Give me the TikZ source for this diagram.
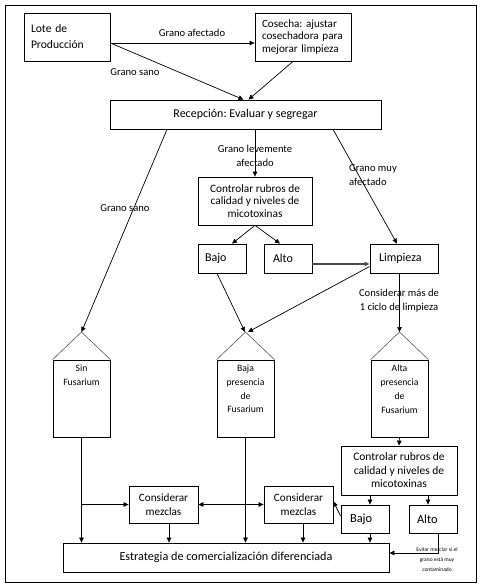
\documentclass[tikz,border=0pt]{standalone}
\usepackage{fontspec}
\setmainfont{Carlito}
\usetikzlibrary{arrows.meta,calc}
\AtBeginDocument{\frenchspacing}
\begin{document}
\begin{tikzpicture}[x=1pt,y=-1pt,
  box/.style={draw, line width=0.8pt, inner sep=0pt, align=center, font=\fontsize{11.3}{12.5}\selectfont},
  silo/.style={draw, line width=0.8pt, inner sep=0pt, minimum width=57pt, minimum height=77pt},
  roof/.style={draw, line width=0.6pt, gray!70!black},
  silotext/.style={inner sep=0pt, align=center, anchor=north, font=\fontsize{9.7}{13.7}\selectfont},
  arr/.style={-{Triangle[length=5pt,width=4.5pt]}, line width=0.7pt},
  lbl/.style={inner sep=0pt, align=center, font=\fontsize{10.6}{14}\selectfont},
  tiny/.style={inner sep=0pt, align=center, font=\fontsize{5.5}{10}\selectfont}]
\useasboundingbox (0,0) rectangle (481,586);
\draw[line width=0.8pt] (5,5) rectangle (476,582);

% top row
\node[box, minimum width=86pt, minimum height=48pt, text width=72pt, align=left, font=\fontsize{11.6}{16}\selectfont] (lote) at (67,37) {Lote de\\Producción};
\node[box, minimum width=96pt, minimum height=48pt, text width=82pt, align=left, font=\fontsize{11.1}{12.5}\selectfont] (cosecha) at (303,37) {Cosecha: ajustar\\cosechadora para\\mejorar limpieza};
\node[box, minimum width=271pt, minimum height=29pt, font=\fontsize{12}{13}\selectfont] (recep) at (245.5,114.5) {Recepción: Evaluar y segregar};

% middle
\node[box, minimum width=114pt, minimum height=48pt] (ctrl1) at (255,201) {Controlar rubros de\\calidad y niveles de\\micotoxinas};
\node[box, minimum width=48pt, minimum height=29pt, text width=34pt, align=left, font=\fontsize{12}{13}\selectfont] (bajo1) at (222,258.5) {Bajo};
\node[box, minimum width=48pt, minimum height=29pt, text width=30pt, align=left, font=\fontsize{12}{13}\selectfont] (alto1) at (288,258.5) {Alto};
\node[box, minimum width=68pt, minimum height=29pt, text width=50pt, align=left, font=\fontsize{12}{13}\selectfont] (limp) at (404,258.5) {Limpieza};

% silos
\node[silo] (sin) at (81.5,398.5) {};
\node[silo] (baja) at (245.5,398.5) {};
\node[silo] (alta) at (399.5,398.5) {};
\coordinate (sinapex) at (81.5,332);
\coordinate (bajaapex) at (245.5,332);
\coordinate (altaapex) at (399.5,332);
\draw[roof] (sin.north west) -- (sinapex) -- (sin.north east);
\draw[roof] (baja.north west) -- (bajaapex) -- (baja.north east);
\draw[roof] (alta.north west) -- (altaapex) -- (alta.north east);
\node[silotext] (sintext) at (81.5,365) {Sin\\Fusarium};
\node[silotext] (bajatext) at (245.5,365) {Baja\\presencia\\de\\Fusarium};
\node[silotext] (altatext) at (399.5,365) {Alta\\presencia\\de\\Fusarium};

% bottom
\node[box, minimum width=116pt, minimum height=49pt, font=\fontsize{11.5}{13.5}\selectfont] (ctrl2) at (399,470.5) {Controlar rubros de\\calidad y niveles de\\micotoxinas};
\node[box, minimum width=48pt, minimum height=28pt, text width=30pt, align=left, font=\fontsize{12.4}{13}\selectfont] (bajo2) at (365,519) {Bajo};
\node[box, minimum width=48pt, minimum height=28pt, text width=32pt, align=left, font=\fontsize{12.4}{13}\selectfont] (alto2) at (433,519) {Alto};
\node[box, minimum width=69pt, minimum height=37pt, font=\fontsize{11.2}{14}\selectfont] (cons1) at (163.5,504.5) {Considerar\\mezclas};
\node[box, minimum width=69pt, minimum height=37pt, font=\fontsize{11.2}{14}\selectfont] (cons2) at (298.5,504.5) {Considerar\\mezclas};
\node[box, minimum width=326pt, minimum height=29pt, font=\fontsize{12.2}{13}\selectfont] (estr) at (226,557.5) {Estrategia de comercialización diferenciada};

% connectors top
\coordinate (lotee) at ($(lote.east)+(0,6)$);
\draw[arr] (lotee) -- ($(cosecha.west)+(0,6)$);
\node[lbl] (l1) at (192,33) {Grano afectado};
\draw[arr] (lotee) -- ($(recep.north)+(-2,0)$);
\node[lbl] (l2) at (135,72) {Grano sano};
\draw[arr] ($(cosecha.south)+(-10,0)$) -- ($(recep.north)+(3,0)$);

% from reception
\draw[arr] ($(recep.south)+(-78.5,0)$) -- (sinapex);
\node[lbl] (l3) at (125,208) {Grano sano};
\draw[arr] ($(recep.south)+(9.5,0)$) -- (ctrl1.north);
\node[lbl] (l4) at (255,156) {Grano levemente\\afectado};
\draw[arr] ($(recep.south)+(87.5,0)$) -- ($(limp.north)+(-7,0)$);
\node[lbl, align=left, anchor=west] (l5) at (349,175) {Grano muy\\afectado};

\draw[arr] (ctrl1.south) -- ($(bajo1.north)+(10,0)$);
\draw[arr] (ctrl1.south) -- ($(alto1.north)+(-8,0)$);
\draw[arr, line width=1.2pt, gray!60!black] ($(alto1.east)+(0,5.5)$) -- ($(limp.west)+(0,5.5)$);
\draw[arr] ($(bajo1.south)+(-5,0)$) -- ($(bajaapex)+(-0.5,0)$);
\draw[arr] ($(limp.west)+(0,8)$) -- ($(bajaapex)+(2.5,0)$);
\draw[arr] ($(limp.south)+(-4.5,0)$) -- (altaapex);
\node[lbl] (l6) at (399,301) {Considerar más de\\1 ciclo de limpieza};

% bottom connectors
\draw[arr] (sin.south) -- (sin.south |- estr.north);
\draw[arr] (sin.south |- cons1.west) -- (cons1.west);
\draw[{Triangle[length=5pt,width=4.5pt]}-{Triangle[length=5pt,width=4.5pt]}, line width=0.7pt] (cons1.east) -- (cons2.west);
\draw[arr] (baja.south) -- (baja.south |- estr.north);
\draw[arr] ($(cons1.south)+(5.5,0)$) -- ($(cons1.south |- estr.north)+(5.5,0)$);
\draw[arr] ($(cons2.south)+(4.5,0)$) -- ($(cons2.south |- estr.north)+(4.5,0)$);
\draw[arr] (alta.south) -- (ctrl2.north);
\draw[arr] ($(ctrl2.south)+(-29,0)$) -- ($(bajo2.north)+(5,0)$);
\draw[arr] ($(ctrl2.south)+(29,0)$) -- ($(alto2.north)+(-5,0)$);
\draw[arr] ($(bajo2.west)+(0,-3)$) -- ($(cons2.east)+(0,-3)$);
\draw[arr] ($(bajo2.south)+(5,0)$) -- ($(bajo2.south |- estr.north)+(5,0)$);
\draw[arr] ($(alto2.south)+(5,0)$) |- ($(estr.east)+(0,-4.5)$);
\node[tiny] (l7) at (437,560) {Evitar mezclar si el\\grano está muy\\contaminado};
\end{tikzpicture}
\end{document}
